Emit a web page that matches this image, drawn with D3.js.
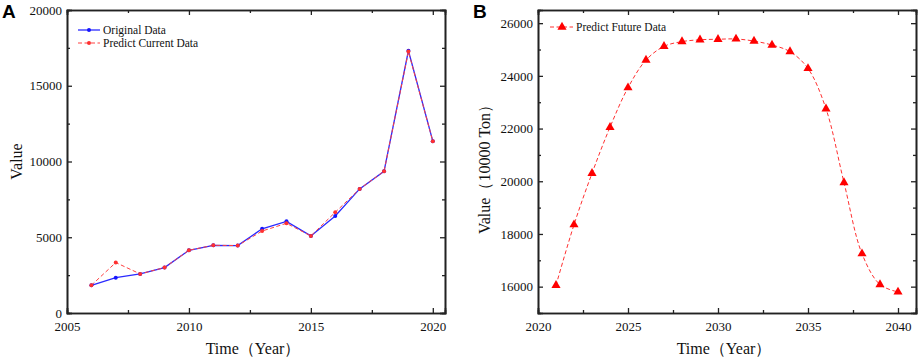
<!DOCTYPE html>
<html>
<head>
<meta charset="utf-8">
<script src="https://cdn.jsdelivr.net/npm/d3@7"></script>
<style>
  body { margin: 0; background: #fff; }
  svg text { font-family: "Liberation Serif", "Times New Roman", serif !important; fill: #111; }
  .axis path, .axis line { stroke: #222; }
  .axis line { stroke-width: 1.3; }
</style>
</head>
<body>
<div id="chart"></div>
<script>
// panel A: historical years
var yearsA = [2006, 2007, 2008, 2009, 2010, 2011, 2012, 2013, 2014, 2015, 2016, 2017, 2018, 2019, 2020];
var originalA = [1830, 2330, 2580, 3000, 4140, 4470, 4450, 5560, 6050, 5090, 6400, 8190, 9350, 17310, 11340];
var predictA  = [1830, 3330, 2580, 3000, 4140, 4470, 4450, 5410, 5920, 5090, 6650, 8190, 9350, 17260, 11340];

// panel B: forecast years
var yearsB = [2021, 2022, 2023, 2024, 2025, 2026, 2027, 2028, 2029, 2030,
              2031, 2032, 2033, 2034, 2035, 2036, 2037, 2038, 2039, 2040];
var futureB = [16050, 18350, 20300, 22050, 23550, 24600, 25120, 25300, 25370, 25390,
               25400, 25320, 25170, 24920, 24280, 22750, 19950, 17250, 16080, 15800];

var ticksXA = [2005, 2010, 2015, 2020], ticksYA = [0, 5000, 10000, 15000, 20000];
var ticksXB = [2020, 2025, 2030, 2035, 2040], ticksYB = [16000, 18000, 20000, 22000, 24000, 26000];

var svg = d3.select("#chart").append("svg").attr("width", 920).attr("height", 359)
    .attr("font-family", "Liberation Serif");

// draws frame with inward ticks on all four sides
function frame(g, x, y, xMajor, xMinor, yMajor, yMinor) {
    var w = x.range()[1], h = y.range()[0];
    g.append("g").attr("class", "axis").attr("transform", "translate(0," + h + ")")
        .call(d3.axisBottom(x).tickValues(xMajor).tickSize(-5).tickPadding(9).tickFormat(d3.format("d")));
    g.append("g").attr("class", "axis").attr("transform", "translate(0," + h + ")")
        .call(d3.axisBottom(x).tickValues(xMinor).tickSize(-3).tickFormat(""));
    g.append("g").attr("class", "axis")
        .call(d3.axisTop(x).tickValues(xMajor).tickSize(-5).tickFormat(""));
    g.append("g").attr("class", "axis")
        .call(d3.axisTop(x).tickValues(xMinor).tickSize(-3).tickFormat(""));
    g.append("g").attr("class", "axis")
        .call(d3.axisLeft(y).tickValues(yMajor).tickSize(-5).tickPadding(5).tickFormat(d3.format("d")));
    g.append("g").attr("class", "axis")
        .call(d3.axisLeft(y).tickValues(yMinor).tickSize(-3).tickFormat(""));
    g.append("g").attr("class", "axis").attr("transform", "translate(" + w + ",0)")
        .call(d3.axisRight(y).tickValues(yMajor).tickSize(-5).tickFormat(""));
    g.append("g").attr("class", "axis").attr("transform", "translate(" + w + ",0)")
        .call(d3.axisRight(y).tickValues(yMinor).tickSize(-3).tickFormat(""));
    g.selectAll(".axis").attr("font-family", "Liberation Serif").attr("font-size", 13);
    g.selectAll(".axis .domain").attr("stroke-width", 1.6);
}

// ---------- panel A ----------
var mA = {left: 67, top: 10, w: 378, h: 303};
var gA = svg.append("g").attr("transform", "translate(" + mA.left + "," + mA.top + ")");
var xA = d3.scaleLinear().domain([2005, 2020.5]).range([0, mA.w]);
var yA = d3.scaleLinear().domain([0, 20000]).range([mA.h, 0]);
frame(gA, xA, yA, ticksXA, [2007.5, 2012.5, 2017.5], ticksYA, [2500, 7500, 12500, 17500]);

var lineA = d3.line().x(function(d, i) { return xA(yearsA[i]); }).y(function(d) { return yA(d); });
gA.append("path").datum(originalA).attr("d", lineA)
    .attr("fill", "none").attr("stroke", "#2a2aff").attr("stroke-width", 1.3);
gA.append("path").datum(predictA).attr("d", lineA)
    .attr("fill", "none").attr("stroke", "#ff4040").attr("stroke-width", 1).attr("stroke-dasharray", "4,2.5");
gA.selectAll(".dotO").data(originalA).enter().append("circle")
    .attr("cx", function(d, i) { return xA(yearsA[i]); }).attr("cy", function(d) { return yA(d); })
    .attr("r", 2).attr("fill", "#1515ff");
gA.selectAll(".dotP").data(predictA).enter().append("circle")
    .attr("cx", function(d, i) { return xA(yearsA[i]); }).attr("cy", function(d) { return yA(d); })
    .attr("r", 2).attr("fill", "#ff3030");

// legend A
var legA = svg.append("g").attr("transform", "translate(78,30)");
legA.append("line").attr("x1", 0).attr("x2", 22).attr("stroke", "#2a2aff").attr("stroke-width", 1.3);
legA.append("circle").attr("cx", 11).attr("r", 2).attr("fill", "#1515ff");
legA.append("text").attr("x", 25).attr("y", 3.5).style("font-size", "11.5px").text("Original Data");
legA.append("line").attr("x1", 0).attr("x2", 22).attr("y1", 13).attr("y2", 13)
    .attr("stroke", "#ff4040").attr("stroke-dasharray", "4,2.5");
legA.append("circle").attr("cx", 11).attr("cy", 13).attr("r", 2).attr("fill", "#ff3030");
legA.append("text").attr("x", 25).attr("y", 16.5).style("font-size", "11.5px").text("Predict Current Data");

svg.append("text").attr("transform", "translate(22," + (mA.top + mA.h / 2) + ") rotate(-90)")
    .attr("text-anchor", "middle").style("font-size", "16px").text("Value");
svg.append("text").attr("x", mA.left + mA.w / 2 - 3).attr("y", 354)
    .attr("text-anchor", "middle").style("font-size", "16px").text("Time（Year）");
svg.append("text").attr("x", 2).attr("y", 18)
    .style("font-family", "Liberation Sans", "important")
    .style("font-weight", "bold").style("font-size", "19px").style("fill", "#000").text("A");

// ---------- panel B ----------
var mB = {left: 538, top: 10, w: 378, h: 303};
var gB = svg.append("g").attr("transform", "translate(" + mB.left + "," + mB.top + ")");
var xB = d3.scaleLinear().domain([2020, 2041]).range([0, mB.w]);
var yB = d3.scaleLinear().domain([15000, 26500]).range([mB.h, 0]);
frame(gB, xB, yB, ticksXB, [2022.5, 2027.5, 2032.5, 2037.5], ticksYB, [17000, 19000, 21000, 23000, 25000]);

var lineB = d3.line().curve(d3.curveCatmullRom)
    .x(function(d, i) { return xB(yearsB[i]); }).y(function(d) { return yB(d); });
gB.append("path").datum(futureB).attr("d", lineB)
    .attr("fill", "none").attr("stroke", "#ff3030").attr("stroke-width", 1).attr("stroke-dasharray", "4,2.5");
var tri = d3.symbol().type(d3.symbolTriangle).size(36);
gB.selectAll(".tri").data(futureB).enter().append("path")
    .attr("d", tri)
    .attr("transform", function(d, i) { return "translate(" + xB(yearsB[i]) + "," + yB(d) + ")"; })
    .attr("fill", "#ff0000");

var legB = svg.append("g").attr("transform", "translate(550,27)");
legB.append("line").attr("x1", 0).attr("x2", 23).attr("stroke", "#ff3030").attr("stroke-dasharray", "4,2.5");
legB.append("path").attr("d", tri).attr("transform", "translate(12,0)").attr("fill", "#ff0000");
legB.append("text").attr("x", 26).attr("y", 4).style("font-size", "11.5px").text("Predict Future Data");

svg.append("text").attr("transform", "translate(490," + (mB.top + mB.h / 2 + 4) + ") rotate(-90)")
    .attr("text-anchor", "middle").style("font-size", "16px").text("Value（10000 Ton）");
svg.append("text").attr("x", mB.left + mB.w / 2 - 3).attr("y", 354)
    .attr("text-anchor", "middle").style("font-size", "16px").text("Time（Year）");
svg.append("text").attr("x", 473).attr("y", 18)
    .style("font-family", "Liberation Sans", "important")
    .style("font-weight", "bold").style("font-size", "19px").style("fill", "#000").text("B");
</script>
</body>
</html>
